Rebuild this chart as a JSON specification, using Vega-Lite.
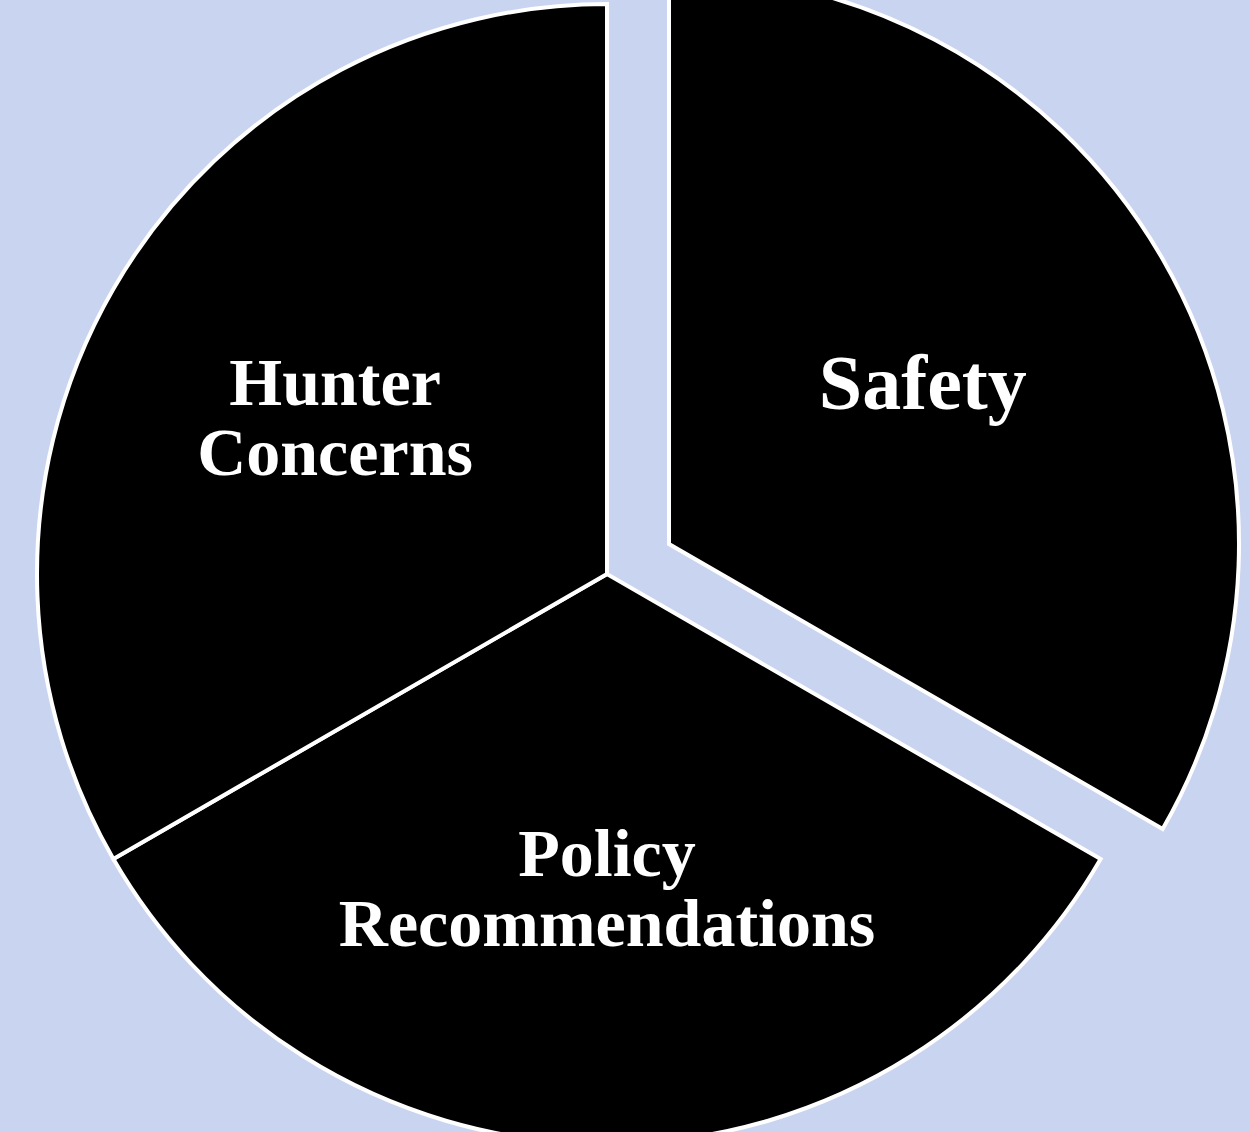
{
  "$schema": "https://vega.github.io/schema/vega-lite/v6.json",
  "width": 1214,
  "height": 1148,
  "autosize": "none",
  "padding": {"left": 0, "top": 0, "right": 35, "bottom": 0},
  "background": "#c9d4f1",
  "config": {"view": {"stroke": null}},
  "data": {
    "values": [
      {"category": "Safety", "label": "Safety", "value": 1, "order": 1},
      {"category": "Policy Recommendations", "label": "Policy\nRecommendations", "value": 1, "order": 2},
      {"category": "Hunter Concerns", "label": "Hunter\nConcerns", "value": 1, "order": 3}
    ]
  },
  "encoding": {
    "theta": {"field": "value", "type": "quantitative", "stack": true},
    "order": {"field": "order", "type": "quantitative"}
  },
  "layer": [
    {
      "mark": {"type": "arc", "outerRadius": 570, "fill": "#000000", "stroke": "#ffffff", "strokeWidth": 4},
      "encoding": {
        "opacity": {"condition": {"test": "datum.category === 'Safety'", "value": 0}, "value": 1}
      }
    },
    {
      "mark": {"type": "arc", "outerRadius": 570, "fill": "#000000", "stroke": "#ffffff", "strokeWidth": 4, "xOffset": 62, "yOffset": -30},
      "encoding": {
        "opacity": {"condition": {"test": "datum.category === 'Safety'", "value": 1}, "value": 0}
      }
    },
    {
      "mark": {"type": "text", "font": "Liberation Serif", "fontWeight": "bold", "fontSize": 68, "color": "#ffffff", "lineBreak": "\n", "lineHeight": 70, "align": "center", "baseline": "middle", "dy": -32},
      "encoding": {
        "text": {"field": "label"},
        "radius": {"value": 314},
        "opacity": {"condition": {"test": "datum.category === 'Safety'", "value": 0}, "value": 1}
      }
    },
    {
      "mark": {"type": "text", "font": "Liberation Serif", "fontWeight": "bold", "fontSize": 78, "color": "#ffffff", "lineBreak": "\n", "align": "center", "baseline": "middle", "xOffset": 62, "yOffset": -30, "dy": -8, "dx": -6},
      "encoding": {
        "text": {"field": "label"},
        "radius": {"value": 300},
        "opacity": {"condition": {"test": "datum.category === 'Safety'", "value": 1}, "value": 0}
      }
    }
  ]
}
